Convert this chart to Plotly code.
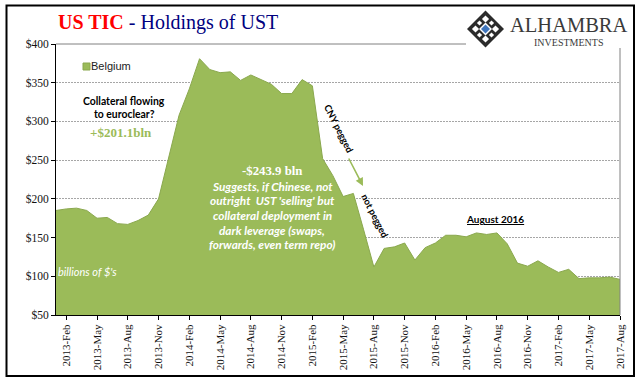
import plotly.graph_objects as go

months = ["Jan","Feb","Mar","Apr","May","Jun","Jul","Aug","Sep","Oct","Nov","Dec"]
categories = [f"{y}-{m}" for y in range(2013, 2018) for m in months][:56]
belgium = [185,187,188,185,175,176,168,167,172,179,200,254,
           308,342,381,367,363,364,353,360,354,348,336,336,
           354,346,252,230,203,207,160,112,136,138,143,121,
           137,143,153,153,151,156,154,156,142,117,113,120,
           112,105,109,97,98,98,99,96]
tick_labels = categories[1::3]
y_ticks = [50,100,150,200,250,300,350,400]
y_labels = [f"${v}" for v in y_ticks]

W, H = 644, 381
L, R, T, B = 56, 24, 44, 66
PW, PH = W-L-R, H-T-B
def px(x): return (x-L)/PW
def py(y): return 1-(y-T)/PH

GREEN = "#9BBB59"
DARK = "#2b2b2b"
fig = go.Figure()
fig.add_trace(go.Scatter(x=categories, y=belgium, mode="lines", fill="tozeroy",
    fillcolor=GREEN, line=dict(color="#8AA84E", width=1), name="Belgium", showlegend=False,
    hoverinfo="skip"))

def diamond(r, fill, dx=0, dy=0):
    cx, cy = 485.5+dx, 29+dy
    return dict(type="path", xref="paper", yref="paper",
         path=f"M {px(cx-r)} {py(cy)} L {px(cx)} {py(cy-r)} L {px(cx+r)} {py(cy)} L {px(cx)} {py(cy+r)} Z",
         fillcolor=fill, line=dict(width=0), layer="above")

shapes = [
    dict(type="rect", xref="paper", yref="paper", x0=px(6.5), x1=px(634), y0=py(5.5), y1=py(376),
         line=dict(color="black", width=2), fillcolor="rgba(0,0,0,0)", layer="above"),
    dict(type="line", xref="paper", yref="paper", x0=0, x1=px(466), y0=1, y1=1, line=dict(color="#808080", width=1)),
    dict(type="line", xref="paper", yref="paper", x0=1, x1=1, y0=0, y1=py(48), line=dict(color="#808080", width=1)),
    dict(type="rect", xref="paper", yref="paper", x0=px(83), x1=px(90), y0=py(63), y1=py(70), fillcolor=GREEN, line=dict(color="#8AA84E", width=1)),
    diamond(18.5, DARK),
    diamond(3.6, "white", -10, 0), diamond(3.6, "white", 10, 0),
    diamond(3.6, "white", 0, -10), diamond(3.6, "white", 0, 10),
    diamond(2.6, "white", -6, -6), diamond(2.6, "white", 6, -6),
    diamond(2.6, "white", -6, 6), diamond(2.6, "white", 6, 6),
    diamond(6.5, "white"),
    diamond(4.5, "#3F75BC"),
]

def note(x, y, text, size, color, family="Lato", angle=0, align="center"):
    return dict(xref="paper", yref="paper", x=px(x), y=py(y), text=text, showarrow=False,
                font=dict(size=size, color=color, family=family), textangle=angle, align=align,
                xanchor="center", yanchor="middle")

SERIF = "Liberation Serif"
ann = [
    note(168, 23, '<b><span style="color:#FF0000">US TIC</span></b><span style="color:#000080"> - Holdings of UST</span>', 20, "#000080", SERIF),
    note(111, 66, "Belgium", 11, "#222222", "Liberation Sans"),
    note(124, 101, "<b>Collateral flowing</b>", 10.4, "black"),
    note(124, 114, "<b>to euroclear?</b>", 10.4, "black"),
    note(121, 132, "<b>+$201.1bln</b>", 13, GREEN, SERIF),
    note(272, 171, "<b>-$243.9 bln</b>", 12.8, "white", SERIF),
    note(272, 186, "<b><i>Suggests, if Chinese, not</i></b>", 11.8, "white"),
    note(272, 200, "<b><i>outright  UST 'selling' but</i></b>", 11.8, "white"),
    note(272, 215, "<b><i>collateral deployment in</i></b>", 11.8, "white"),
    note(272, 230, "<b><i>dark leverage (swaps,</i></b>", 11.8, "white"),
    note(272, 244, "<b><i>forwards, even term repo)</i></b>", 11.8, "white"),
    note(87, 271, "<i>billions of $'s</i>", 11, "white"),
    note(339, 128, "<b>CNY pegged</b>", 9.5, "black", angle=63),
    note(375, 215, "<b>not pegged</b>", 9.5, "black", angle=63),
    note(495, 219, "<b><u>August 2016</u></b>", 10, "black"),
    note(568.5, 25, "ALHAMBRA", 20.5, "#3a3a3a", SERIF),
    note(568.5, 42, "INVESTMENTS", 10, "#3a3a3a", SERIF),
    dict(xref="paper", yref="paper", x=px(363), y=py(186), ax=-15, ay=-29, text="", showarrow=True,
         arrowhead=2, arrowsize=1, arrowwidth=1.6, arrowcolor=GREEN),
]

fig.update_layout(
    width=W, height=H, autosize=False,
    margin=dict(l=L, r=R, t=T, b=B),
    paper_bgcolor="white", plot_bgcolor="white",
    shapes=shapes, annotations=ann, showlegend=False,
    xaxis=dict(type="category", categoryorder="array", categoryarray=categories,
               range=[0, 55], tickmode="array", tickvals=tick_labels, ticktext=tick_labels,
               tickangle=-90, ticks="outside", ticklen=4, tickcolor="black", showgrid=False,
               showline=True, linecolor="black", linewidth=1,
               tickfont=dict(family=SERIF, size=11, color="#111111"), automargin=False),
    yaxis=dict(range=[50, 400], tickvals=y_ticks, ticktext=y_labels, ticks="outside", ticklen=4,
               tickcolor="black", showline=True, linecolor="black", linewidth=1,
               showgrid=True, gridcolor="#A6A6A6", griddash="2px,1px", gridwidth=1, zeroline=False,
               tickfont=dict(family=SERIF, size=11.5, color="#111111"), automargin=False),
)
fig.write_html("out.html", config={"displayModeBar": False},
               post_script="document.body.style.margin='0';document.documentElement.style.overflow='hidden';")
